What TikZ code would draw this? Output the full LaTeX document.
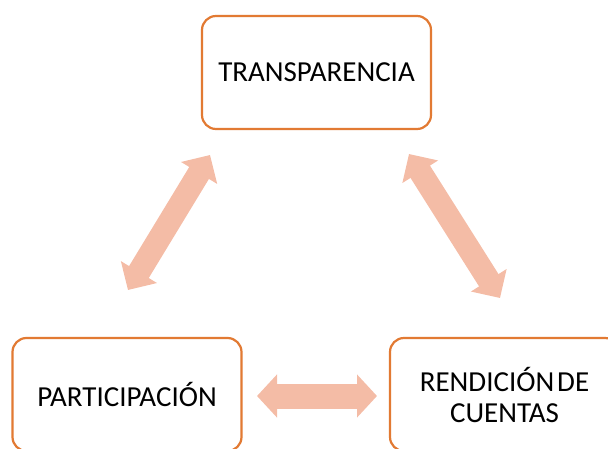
\documentclass[tikz,border=0pt]{standalone}
\usepackage{fontspec}
\setmainfont{Carlito}
\usetikzlibrary{arrows.meta}
\definecolor{boxline}{HTML}{E27A33}
\definecolor{arrowfill}{HTML}{F4BCA6}
\begin{document}
\begin{tikzpicture}[x=1bp,y=-1bp,
  box/.style={draw=boxline,line width=2.2bp,rounded corners=14bp,fill=white,
    minimum width=229bp,minimum height=113bp,inner sep=0pt,align=center,
    font=\fontsize{29bp}{31bp}\selectfont},
  bigarrow/.style={draw=arrowfill,line width=#1,
    {Triangle[length=21bp,width=41bp]}-{Triangle[length=21bp,width=41bp]}},
]
\useasboundingbox (0,0) rectangle (608,449);
\node[box] (top) at (316.5,72.5) {TRANSPARENCIA};
\node[box] (left) at (127,394.5) {PARTICIPACIÓN};
\node[box] (right) at (504.5,394.5) {RENDICIÓN\hspace{0.1em}DE\\CUENTAS};
\coordinate (l1) at (128,290);
\coordinate (l2) at (210,155);
\coordinate (r1) at (409,154);
\coordinate (r2) at (500,298);
\coordinate (h1) at (257,396);
\coordinate (h2) at (377,396);
\draw[bigarrow=23bp] (l1) -- (l2);
\draw[bigarrow=23bp] (r1) -- (r2);
\draw[draw=arrowfill,line width=25bp,{Triangle[length=20bp,width=42bp]}-{Triangle[length=20bp,width=42bp]}] (h1) -- (h2);
\end{tikzpicture}
\end{document}
